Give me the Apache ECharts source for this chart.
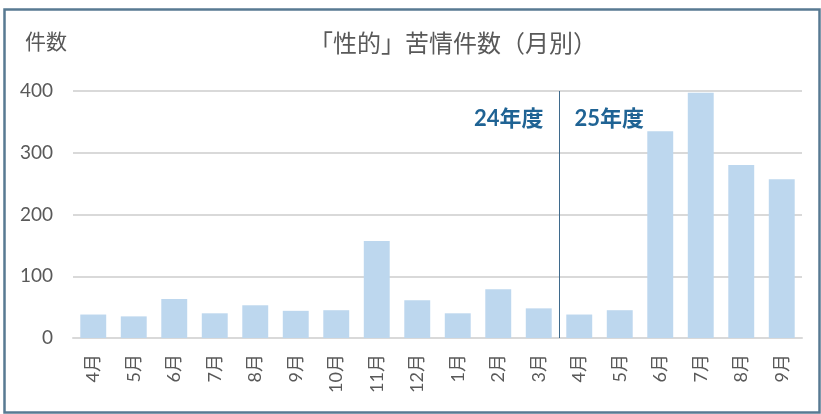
<!DOCTYPE html>
<html>
<head>
<meta charset="utf-8">
<script src="https://cdn.jsdelivr.net/npm/echarts@6/dist/echarts.min.js"></script>
<style>
html,body{margin:0;padding:0;background:#fff;}
#c{width:821px;height:414px;}
</style>
</head>
<body>
<div id="c"></div>
<script>
const categories = ['4月','5月','6月','7月','8月','9月','10月','11月','12月','1月','2月','3月','4月','5月','6月','7月','8月','9月'];
const counts = [38, 35, 63, 40, 53, 44, 45, 157, 61, 40, 79, 48, 38, 45, 335, 397, 280, 257];
const yTicks = [0, 100, 200, 300, 400];
const fiscalLabels = ['24年度', '25年度'];
const dividerIndex = 12;
const labelLevel = 354;

const FONT = "Lato, 'Noto Sans CJK JP', sans-serif";
const chart = echarts.init(document.getElementById('c'), null, {renderer: 'canvas'});
chart.setOption({
  backgroundColor: '#fff',
  animation: false,
  graphic: [
    {type: 'rect', left: 2, top: 7, shape: {width: 815, height: 403},
     style: {fill: 'none', stroke: '#587a92', lineWidth: 2.5}, silent: true},
    {type: 'text', x: 453, y: 44,
     style: {text: '「性的」苦情件数（月別）', fontFamily: FONT, fontSize: 24, fill: '#595959',
             align: 'center', verticalAlign: 'middle'}},
    {type: 'text', x: 25, y: 42,
     style: {text: '件数', fontFamily: FONT, fontSize: 21, fill: '#595959', verticalAlign: 'middle'}}
  ],
  grid: {left: 73, right: 19, top: 91, bottom: 76, containLabel: false},
  xAxis: [{
    type: 'category',
    data: categories,
    axisLine: {show: true, lineStyle: {color: '#d9d9d9', width: 2}},
    axisTick: {show: false},
    axisLabel: {rotate: 90, margin: 16, fontFamily: FONT, fontSize: 18, color: '#595959', interval: 0}
  }, {
    type: 'value', min: 0, max: categories.length, show: false
  }],
  yAxis: {
    type: 'value', min: yTicks[0], max: yTicks[yTicks.length - 1], interval: 100,
    axisLine: {show: false}, axisTick: {show: false},
    axisLabel: {margin: 20, fontFamily: FONT, fontSize: 19, color: '#595959'},
    splitLine: {lineStyle: {color: '#d9d9d9', width: 2}}
  },
  series: [{
    type: 'bar',
    data: counts,
    barCategoryGap: '36%',
    itemStyle: {color: '#bdd7ee'},
    silent: true
  }, {
    type: 'scatter',
    xAxisIndex: 1,
    symbolSize: 1,
    itemStyle: {color: '#ffffff', opacity: 0},
    silent: true,
    z: 5,
    data: [
      {value: [dividerIndex, labelLevel], label: {show: true, position: 'left', distance: 15, formatter: fiscalLabels[0]}},
      {value: [dividerIndex, labelLevel], label: {show: true, position: 'right', distance: 15, formatter: fiscalLabels[1]}}
    ],
    label: {fontFamily: FONT, fontSize: 22, fontWeight: 'bold', color: '#1f6394', opacity: 1},
    markLine: {
      silent: true,
      symbol: 'none',
      label: {show: false},
      lineStyle: {color: '#3f6a8c', width: 1, type: 'solid', opacity: 1},
      data: [[{coord: [dividerIndex, yTicks[0]]}, {coord: [dividerIndex, yTicks[yTicks.length - 1]]}]]
    }
  }]
});
</script>
</body>
</html>
